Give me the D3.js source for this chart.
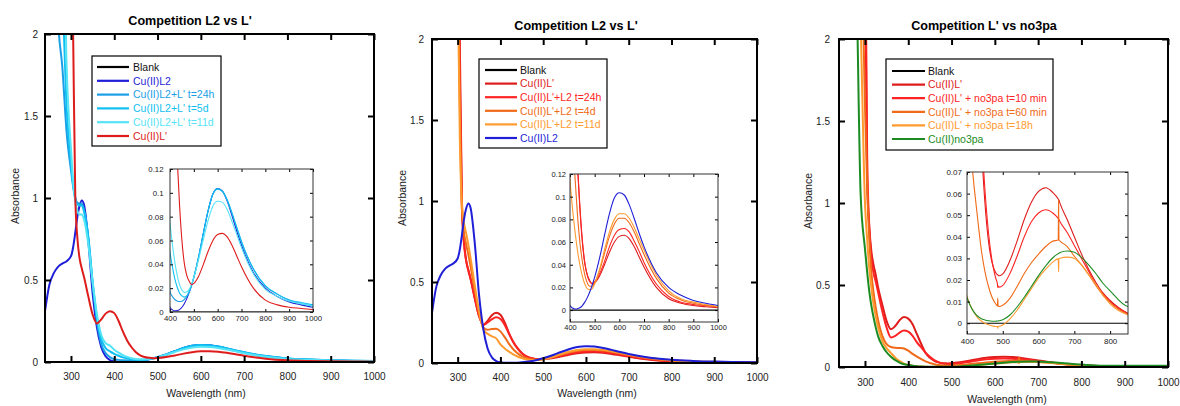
<!DOCTYPE html>
<html>
<head>
<meta charset="utf-8">
<script src="https://cdn.jsdelivr.net/npm/d3@7"></script>
<style>
  body { margin: 0; background: #fff; }
  svg { display: block; }
</style>
</head>
<body>
<svg id="chart" width="1180" height="406"></svg>
<script>
const FONT = '"Liberation Sans", Arial, Helvetica, sans-serif';

// wavelength grids (nm)
const WL = [240,250,260,270,280,290,300,305,310,315,320,325,330,340,350,360,370,380,390,400,410,420,430,440,450,460,470,480,490,500,520,540,560,580,600,620,640,660,680,700,750,800,850,900,950,1000];
const WL3 = [240,250,260,270,280,290,300,305,310,315,320,325,330,340,350,360,370,380,390,400,410,420,430,440,450,460,470,480,485,486,487,490,500,520,540,560,580,600,620,640,655,656,657,660,680,700,720,740,760,780,800,850,900,950,1000];
const BLANK_WL = [240, 1000];
const BLANK = [0, 0];

// panel 1 + 2 spectra (absorbance on WL)
const CU_L2 = [0.31,0.47,0.54,0.58,0.60,0.615,0.645, 0.70,0.79,0.89,0.955,0.985,0.96,
  0.74,0.42,0.21,0.09,0.035,0.012,0.004,0.0018,0.001,0.0012,0.002,0.004,0.007,0.011,0.016,0.022,0.029,
  0.046,0.066,0.085,0.099,0.1035,0.1015,0.093,0.081,0.068,0.056, 0.033,0.020,0.013,0.0085,0.006,0.004];
const CU_L = [3,3,3,3,3,3,3, 2.0,1.0,0.75,0.63,0.57,0.52,
  0.40,0.29,0.235,0.26,0.295,0.31,0.298,0.25,0.185,0.13,0.09,0.06,0.041,0.031,0.026,0.023,0.024,
  0.030,0.040,0.051,0.060,0.065,0.066,0.063,0.056,0.047,0.038, 0.020,0.010,0.006,0.004,0.003,0.002];
const P1_24H = [3,3,3,2.1,1.8,1.4,1.17, 1.07,1.0,0.97,0.965,0.965,0.93,
  0.76,0.48,0.25,0.11,0.055,0.03,0.017,0.013,0.0105,0.0093,0.0088,0.009,0.0105,0.013,0.017,0.022,0.029,
  0.046,0.066,0.085,0.099,0.1035,0.1015,0.094,0.083,0.071,0.059, 0.036,0.022,0.015,0.010,0.007,0.005];
const P1_5D = [3,3,3,3,2.3,1.55,1.22, 1.08,1.0,0.96,0.955,0.955,0.92,
  0.76,0.49,0.27,0.14,0.085,0.065,0.05,0.038,0.028,0.021,0.016,0.0135,0.0125,0.0135,0.0165,0.022,0.029,
  0.046,0.066,0.085,0.099,0.103,0.101,0.094,0.083,0.071,0.059, 0.036,0.022,0.015,0.010,0.008,0.006];
const P1_11D = [3,3,3,3,3,1.8,1.3, 1.1,0.98,0.92,0.9,0.9,0.87,
  0.72,0.49,0.29,0.165,0.115,0.1,0.075,0.057,0.042,0.031,0.023,0.0185,0.0165,0.0168,0.019,0.023,0.029,
  0.044,0.061,0.077,0.089,0.093,0.092,0.086,0.076,0.065,0.054, 0.032,0.019,0.013,0.009,0.007,0.005];
const P2_24H = [3,3,3,3,3,3,2.8, 1.8,0.95,0.73,0.63,0.575,0.525,
  0.40,0.29,0.235,0.25,0.27,0.282,0.272,0.235,0.18,0.13,0.092,0.062,0.042,0.031,0.025,0.0235,0.025,
  0.032,0.043,0.056,0.066,0.071,0.072,0.069,0.061,0.052,0.042, 0.023,0.012,0.007,0.005,0.004,0.003];
const P2_4D = [3,3,3,3,3,3,2.6, 1.6,0.95,0.8,0.73,0.67,0.6,
  0.45,0.31,0.22,0.205,0.21,0.212,0.195,0.16,0.118,0.085,0.06,0.043,0.031,0.024,0.021,0.021,0.024,
  0.035,0.050,0.065,0.076,0.081,0.081,0.077,0.069,0.059,0.049, 0.028,0.015,0.009,0.006,0.004,0.003];
const P2_11D = [3,3,3,3,3,3,2.4, 1.4,0.97,0.86,0.8,0.73,0.65,
  0.48,0.32,0.21,0.18,0.165,0.152,0.115,0.09,0.07,0.053,0.040,0.030,0.023,0.019,0.018,0.019,0.023,
  0.036,0.053,0.069,0.080,0.085,0.085,0.081,0.073,0.063,0.053, 0.031,0.017,0.010,0.007,0.005,0.003];

// panel 3 spectra (absorbance on WL3)
const P3_L = [3,3,3,3,3,3,2.5, 1.15,0.85,0.7,0.62,0.56,0.49,
  0.38,0.28,0.23,0.25,0.285,0.305,0.295,0.26,0.2,0.14,0.085,0.056,0.038,0.028,0.0235,
  0.0225,0.0224,0.0222, 0.022,0.0228,
  0.029,0.038,0.048,0.056,0.061,0.0627,0.0605, 0.0575,0.0572,0.057,
  0.0555,0.048,0.040,0.032,0.025,0.019,0.014,0.0105, 0.0045,0.0025,0.0015,0.001];
const P3_10M = [3,3,3,3,3,3,2.8, 1.3,0.85,0.66,0.57,0.52,0.46,
  0.34,0.24,0.18,0.19,0.21,0.222,0.215,0.19,0.15,0.12,0.088,0.062,0.042,0.029,0.021,
  0.0182,0.0165,0.0172, 0.0167,0.0175,
  0.023,0.031,0.040,0.047,0.051,0.0525,0.051, 0.0485,0.0483,0.048,
  0.047,0.042,0.036,0.030,0.024,0.018,0.0135,0.010, 0.0045,0.0025,0.0015,0.001];
const P3_60M = [3,3,3,3,3,2.8,1.6, 1.1,0.78,0.57,0.45,0.36,0.29,
  0.19,0.14,0.122,0.117,0.116,0.113,0.1,0.08,0.063,0.048,0.034,0.024,0.017,0.012,0.009,
  0.008,0.0115,0.0078, 0.0077,0.0083,
  0.0115,0.017,0.023,0.028,0.032,0.0355,0.038, 0.0385,0.057,0.0385,
  0.038,0.0355,0.031,0.027,0.0225,0.0175,0.013,0.0095, 0.004,0.002,0.001,0.001];
const P3_18H = [3,3,3,3,3,2.1,1.0, 0.78,0.6,0.48,0.38,0.31,0.245,
  0.16,0.115,0.085,0.057,0.036,0.021,0.0125,0.008,0.005,0.0025,0.001,0,-0.0007,-0.0012,-0.0015,
  -0.0015,-0.0024,-0.0015, -0.0014,-0.0008,
  0.002,0.006,0.011,0.016,0.021,0.025,0.0283, 0.0298,0.0238,0.0299,
  0.0301,0.0306,0.030,0.027,0.0225,0.018,0.013,0.009, 0.0038,0.0022,0.0015,0.001];
const P3_NO3PA = [3,3,3,3,2.4,1.05,0.72, 0.58,0.46,0.37,0.30,0.24,0.19,
  0.13,0.09,0.062,0.042,0.027,0.017,0.0118,0.0078,0.005,0.0032,0.0021,0.0015,0.0011,0.0009,0.0009,
  0.001,0.001,0.001, 0.0011,0.0016,
  0.0038,0.0075,0.012,0.017,0.022,0.0265,0.0303, 0.0322,0.0323,0.0324,
  0.0327,0.0334,0.0328,0.0305,0.027,0.023,0.0185,0.015, 0.0077,0.007,0.007,0.008];

// ticks
const MAIN_X_TICKS = [300, 400, 500, 600, 700, 800, 900, 1000];
const MAIN_Y_TICKS = [0, 0.5, 1, 1.5, 2];
const INSET_X_TICKS = [400, 500, 600, 700, 800, 900, 1000];
const INSET3_X_TICKS = [400, 500, 600, 700, 800];
const INSET_Y_TICKS = [0, 0.02, 0.04, 0.06, 0.08, 0.1, 0.12];
const INSET3_Y_TICKS = [0, 0.01, 0.02, 0.03, 0.04, 0.05, 0.06, 0.07];

const TITLES = ["Competition L2 vs L'", "Competition L2 vs L'", "Competition L' vs no3pa"];
const P1_NAMES = ["Blank", "Cu(II)L2", "Cu(II)L2+L' t=24h", "Cu(II)L2+L' t=5d", "Cu(II)L2+L' t=11d", "Cu(II)L'"];
const P2_NAMES = ["Blank", "Cu(II)L'", "Cu(II)L'+L2 t=24h", "Cu(II)L'+L2 t=4d", "Cu(II)L'+L2 t=11d", "Cu(II)L2"];
const P3_NAMES = ["Blank", "Cu(II)L'", "Cu(II)L' + no3pa t=10 min", "Cu(II)L' + no3pa t=60 min", "Cu(II)L' + no3pa t=18h", "Cu(II)no3pa"];

const C = {
  blank: "#000000", l2: "#1f1fd8", lp: "#de1c1c", red2: "#ff2424",
  orange: "#f06a18", lightOrange: "#ff9a2e", green: "#1c8c22",
  c24: "#1a9ee6", c5: "#10bff2", c11: "#55e4f6"
};

const panels = [
  {
    title: TITLES[0], box: {l: 45, r: 374, t: 34, b: 362},
    titlePos: [190, 25], xLabelPos: [206, 397], yLabelPos: [18.5, 196],
    xPad: 11, yPad: 7,
    inset: {l: 170, r: 313, t: 169, b: 312, xd: [400, 1000], yd: [0, 0.12], xt: INSET_X_TICKS, yt: INSET_Y_TICKS, fs: 7.8, xPad: 3.2, yPad: 6.5},
    legend: {l: 92, t: 56, w: 129, h: 90, y0: 67, dy: 13.8, x0: 97, x1: 129, tx: 133},
    series: [
      {name: P1_NAMES[0], wl: BLANK_WL, v: BLANK, color: C.blank},
      {name: P1_NAMES[1], wl: WL, v: CU_L2, color: C.l2},
      {name: P1_NAMES[2], wl: WL, v: P1_24H, color: C.c24},
      {name: P1_NAMES[3], wl: WL, v: P1_5D, color: C.c5},
      {name: P1_NAMES[4], wl: WL, v: P1_11D, color: C.c11},
      {name: P1_NAMES[5], wl: WL, v: CU_L, color: C.lp}
    ]
  },
  {
    title: TITLES[1], box: {l: 432, r: 757, t: 39, b: 363},
    titlePos: [576, 30], xLabelPos: [597, 397], yLabelPos: [405.5, 198],
    xPad: 11, yPad: 8,
    inset: {l: 570, r: 718, t: 174, b: 322, xd: [400, 1000], yd: [-0.0105, 0.12], xt: INSET_X_TICKS, yt: INSET_Y_TICKS, fs: 7.5, xPad: 3, yPad: 4},
    legend: {l: 479, t: 59, w: 128, h: 89, y0: 70, dy: 13.6, x0: 485, x1: 517, tx: 520},
    series: [
      {name: P2_NAMES[0], wl: BLANK_WL, v: BLANK, color: C.blank},
      {name: P2_NAMES[1], wl: WL, v: CU_L, color: C.lp},
      {name: P2_NAMES[2], wl: WL, v: P2_24H, color: C.red2},
      {name: P2_NAMES[3], wl: WL, v: P2_4D, color: C.orange},
      {name: P2_NAMES[4], wl: WL, v: P2_11D, color: C.lightOrange},
      {name: P2_NAMES[5], wl: WL, v: CU_L2, color: C.l2}
    ]
  },
  {
    title: TITLES[2], box: {l: 839, r: 1168, t: 39, b: 367},
    titlePos: [984, 30], xLabelPos: [1007, 403], yLabelPos: [811.5, 201],
    xPad: 12, yPad: 9,
    inset: {l: 967, r: 1128, t: 172, b: 334, xd: [400, 850], yd: [-0.005, 0.07], xt: INSET3_X_TICKS, yt: INSET3_Y_TICKS, fs: 8, xPad: 4, yPad: 5},
    legend: {l: 886, t: 59, w: 167, h: 91, y0: 71, dy: 13.6, x0: 892, x1: 925, tx: 928},
    series: [
      {name: P3_NAMES[0], wl: BLANK_WL, v: BLANK, color: C.blank},
      {name: P3_NAMES[1], wl: WL3, v: P3_L, color: C.lp},
      {name: P3_NAMES[2], wl: WL3, v: P3_10M, color: C.red2},
      {name: P3_NAMES[3], wl: WL3, v: P3_60M, color: C.orange},
      {name: P3_NAMES[4], wl: WL3, v: P3_18H, color: C.lightOrange},
      {name: P3_NAMES[5], wl: WL3, v: P3_NO3PA, color: C.green}
    ]
  }
];

const svg = d3.select("#chart");

function styleAxis(sel, fs, tw) {
  sel.select(".domain").remove();
  sel.selectAll(".tick line").attr("stroke", "#000").attr("stroke-width", tw);
  sel.selectAll(".tick text").attr("fill", "#222").attr("font-size", fs).attr("font-family", FONT);
}

function drawAxes(g, x, y, b, xt, yt, o) {
  g.append("g").attr("transform", `translate(0,${b.b})`)
    .call(d3.axisBottom(x).tickValues(xt).tickSize(-o.len).tickPadding(o.xPad).tickFormat(d3.format("d")))
    .call(s => styleAxis(s, o.fs, o.tw));
  g.append("g").attr("transform", `translate(0,${b.t})`)
    .call(d3.axisTop(x).tickValues(xt).tickSize(-o.len).tickFormat(""))
    .call(s => styleAxis(s, o.fs, o.tw));
  g.append("g").attr("transform", `translate(${b.l},0)`)
    .call(d3.axisLeft(y).tickValues(yt).tickSize(-o.len).tickPadding(o.yPad).tickFormat(d => String(d)))
    .call(s => styleAxis(s, o.fs, o.tw));
  g.append("g").attr("transform", `translate(${b.r},0)`)
    .call(d3.axisRight(y).tickValues(yt).tickSize(-o.len).tickFormat(""))
    .call(s => styleAxis(s, o.fs, o.tw));
}

function drawCurves(g, x, y, b, series, width, clipId) {
  svg.append("clipPath").attr("id", clipId).append("rect")
    .attr("x", b.l).attr("y", b.t).attr("width", b.r - b.l).attr("height", b.b - b.t);
  const line = d3.line().x(d => x(d[0])).y(d => y(d[1])).curve(d3.curveMonotoneX);
  g.append("g").attr("clip-path", `url(#${clipId})`)
    .selectAll("path").data(series).join("path")
    .attr("d", s => line(d3.zip(s.wl, s.v)))
    .attr("fill", "none")
    .attr("stroke", s => s.color)
    .attr("stroke-width", width)
    .attr("stroke-linejoin", "round");
}

panels.forEach((p, i) => {
  const g = svg.append("g");
  const b = p.box;
  const x = d3.scaleLinear().domain([240, 1000]).range([b.l, b.r]);
  const y = d3.scaleLinear().domain([0, 2]).range([b.b, b.t]);

  drawCurves(g, x, y, b, p.series, 2, "main" + i);
  drawAxes(g, x, y, b, MAIN_X_TICKS, MAIN_Y_TICKS, {len: 6, tw: 2, fs: 10, xPad: p.xPad, yPad: p.yPad});
  g.append("rect").attr("x", b.l).attr("y", b.t).attr("width", b.r - b.l).attr("height", b.b - b.t)
    .attr("fill", "none").attr("stroke", "#000").attr("stroke-width", 2);

  g.append("text").attr("x", p.titlePos[0]).attr("y", p.titlePos[1])
    .attr("text-anchor", "middle").attr("font-family", FONT).attr("font-weight", "bold")
    .attr("font-size", 12.6).attr("fill", "#000").text(p.title);
  g.append("text").attr("x", p.xLabelPos[0]).attr("y", p.xLabelPos[1])
    .attr("text-anchor", "middle").attr("font-family", FONT).attr("font-size", 10.5)
    .attr("fill", "#222").text("Wavelength (nm)");
  g.append("text")
    .attr("transform", `translate(${p.yLabelPos[0]},${p.yLabelPos[1]}) rotate(-90)`)
    .attr("text-anchor", "middle").attr("font-family", FONT).attr("font-size", 10.5)
    .attr("fill", "#222").text("Absorbance");

  // inset
  const n = p.inset;
  const ib = {l: n.l, r: n.r, t: n.t, b: n.b};
  const ix = d3.scaleLinear().domain(n.xd).range([n.l, n.r]);
  const iy = d3.scaleLinear().domain(n.yd).range([n.b, n.t]);
  g.append("rect").attr("x", n.l).attr("y", n.t).attr("width", n.r - n.l).attr("height", n.b - n.t)
    .attr("fill", "#fff");
  drawCurves(g, ix, iy, ib, p.series, 1.1, "inset" + i);
  drawAxes(g, ix, iy, ib, n.xt, n.yt, {len: 3, tw: 1, fs: n.fs, xPad: n.xPad, yPad: n.yPad});
  g.append("rect").attr("x", n.l).attr("y", n.t).attr("width", n.r - n.l).attr("height", n.b - n.t)
    .attr("fill", "none").attr("stroke", "#333").attr("stroke-width", 1);

  // legend
  const L = p.legend;
  g.append("rect").attr("x", L.l).attr("y", L.t).attr("width", L.w).attr("height", L.h)
    .attr("fill", "#fff").attr("stroke", "#000").attr("stroke-width", 1.2);
  const rows = g.append("g").selectAll("g").data(p.series).join("g")
    .attr("transform", (s, k) => `translate(0,${L.y0 + k * L.dy})`);
  rows.append("line").attr("x1", L.x0).attr("x2", L.x1)
    .attr("stroke", s => s.color).attr("stroke-width", 2.2);
  rows.append("text").attr("x", L.tx).attr("y", 3.8)
    .attr("font-family", FONT).attr("font-size", 10.5)
    .attr("fill", s => s.color === "#000000" ? "#111" : s.color).text(s => s.name);
});
</script>
</body>
</html>
